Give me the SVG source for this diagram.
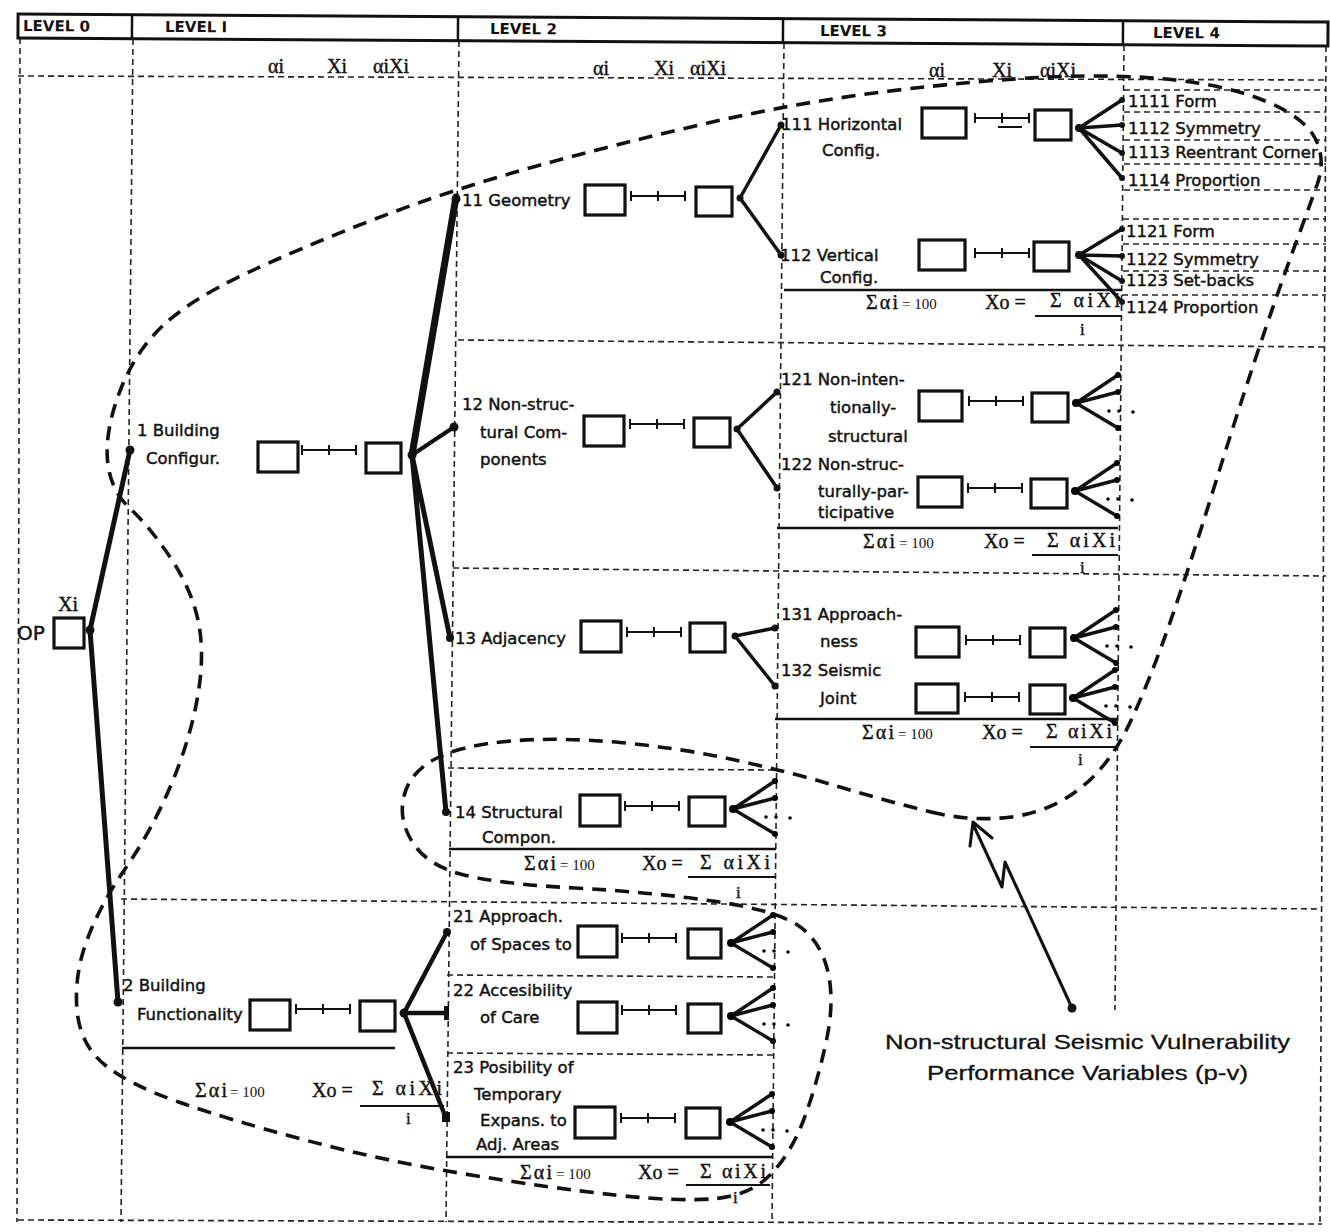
<svg xmlns="http://www.w3.org/2000/svg" width="1330" height="1232" viewBox="0 0 1330 1232">
<defs>
<style>
.t{font-family:"DejaVu Sans","Liberation Sans",sans-serif;font-size:16.5px;fill:#111;stroke:#111;stroke-width:0.45}
.hd{font-family:"DejaVu Sans","Liberation Sans",sans-serif;font-weight:bold;font-size:15px;fill:#111}
.g{font-family:"Liberation Serif",serif;font-size:20px;fill:#111;stroke:#111;stroke-width:0.4}
.gs{font-family:"Liberation Serif",serif;font-size:15px;fill:#111}
.box{fill:#fff;stroke:#111;stroke-width:3.2}
.grid{fill:none;stroke:#222;stroke-width:1.6;stroke-dasharray:6 4}
.loop{fill:none;stroke:#111;stroke-width:3.6;stroke-dasharray:14 9}
.br{fill:none;stroke:#111;stroke-linecap:round}
.rule{stroke:#111;stroke-width:2.6}
.frac{stroke:#111;stroke-width:1.8}
.ann{font-family:"Liberation Sans",Arial,sans-serif;font-size:21px;fill:#111;stroke:#111;stroke-width:0.3}
</style>
<path id="cn" d="M0 0H54M0 -5V5M27 -5V5M54 -5V5" fill="none" stroke="#111" stroke-width="2"/>
<g id="fan">
<path d="M0 0L42 -28M0 0L42 -11M0 0L42 25" fill="none" stroke="#111" stroke-width="3.4" stroke-linecap="round"/>
<circle cx="0" cy="0" r="4"/>
<circle cx="42" cy="-28" r="3"/><circle cx="42" cy="-11" r="3"/><circle cx="42" cy="25" r="3"/>
<circle cx="33" cy="8" r="1.8"/><circle cx="43" cy="8" r="1.8"/><circle cx="57" cy="9" r="1.8"/>
</g>
</defs>
<rect width="1330" height="1232" fill="#fff"/>

<g id="header" transform="rotate(0.35 18 26)">
<rect x="18" y="14" width="1310" height="24" fill="none" stroke="#111" stroke-width="3"/>
<path d="M132 14V38M458 14V38M783 14V38M1123 14V38" stroke="#111" stroke-width="2.5"/>
<text class="hd" x="23" y="31">LEVEL 0</text>
<text class="hd" x="165" y="31">LEVEL I</text>
<text class="hd" x="490" y="31">LEVEL 2</text>
<text class="hd" x="820" y="31">LEVEL 3</text>
<text class="hd" x="1153" y="31">LEVEL 4</text>
</g>

<g id="grid">
<path class="grid" d="M20 38L17 1222M133 39L121 1222M459 41L446 1222M784 43L772 1222M1124 45L1115 1010M1326 46L1320 1222"/>
<path class="grid" d="M18 76L1326 80M458 340L1326 347M453 568L1326 576M448 768L776 770M121 899L1322 909M447 975L774 977M447 1053L774 1055M18 1220L1322 1224"/>
<path class="grid" d="M1124 90H1326M1124 112H1326M1124 140H1326M1124 164H1326M1124 190H1326M1123 219H1326M1123 244H1326M1123 271H1326M1122 295H1326"/>
</g>

<g id="colheads">
<text class="g" x="268" y="73">αi</text><text class="g" x="327" y="73">Xi</text><text class="g" x="373" y="73">αiXi</text>
<text class="g" x="593" y="75">αi</text><text class="g" x="654" y="75">Xi</text><text class="g" x="690" y="75">αiXi</text>
<text class="g" x="929" y="77">αi</text><text class="g" x="992" y="77">Xi</text><text class="g" x="1040" y="77">αiXi</text>
</g>

<g id="enclosure">
<path class="loop" d="M931,812 Q972,822 1011,817 Q1050,812 1080,788.5 Q1110,765 1130,722.5 Q1150,680 1170,622.5 Q1190,565 1212.5,492.5 Q1235,420 1255,360 Q1275,300 1291.5,255 Q1308,210 1317,185 Q1326,160 1315.5,139 Q1305,118 1267.5,102 Q1230,86 1175,80 Q1120,74 1050,77 Q980,80 890,91 Q800,102 710,122.5 Q620,143 535,166.5 Q450,190 375,219 Q300,248 245,274 Q190,300 162.5,326 Q135,352 120,391 Q105,430 107.5,460 Q110,490 130,508.5 Q150,527 171,558.5 Q192,590 198.5,622.5 Q205,655 197.5,697.5 Q190,740 171,785 Q152,830 126,867.5 Q100,905 87,940 Q74,975 77,1010 Q80,1045 105,1065 Q130,1085 180,1102.5 Q230,1120 305,1140 Q380,1160 465,1174 Q550,1188 615,1195 Q680,1202 716,1198.5 Q752,1195 772.5,1172.5 Q793,1150 805.5,1115 Q818,1080 826.5,1040 Q835,1000 827.5,970 Q820,940 797.5,925 Q775,910 712.5,901 Q650,892 575,888 Q500,884 464,875 Q428,866 413,843 Q398,820 404,796 Q410,772 436,758.5 Q462,745 511,741 Q560,737 620,742.5 Q680,748 735,760 Q790,772 840,787 Q890,802 931,812 Z"/>
</g>

<g id="connectors">
<path class="br" stroke-width="5" d="M90 630L130 450M90 630L118 1002"/>
<path class="br" stroke-width="7" d="M412 455L456 197"/>
<path class="br" stroke-width="4" d="M412 455L454 427"/>
<path class="br" stroke-width="5" d="M412 455L450 638M412 455L446 812"/>
<path class="br" stroke-width="4.5" d="M404 1013L447 932M404 1013L447 1013M404 1013L446 1118"/>
<path class="br" stroke-width="3.5" d="M740 198L781 125M740 198L781 255M737 429L777 392M737 429L777 488M735 636L775 628M735 636L775 686"/>
<path class="br" stroke-width="3.5" d="M1079 128L1122 100M1079 128L1122 125M1079 128L1122 153M1079 128L1122 178M1079 255L1122 229M1079 255L1122 256M1079 255L1122 281M1079 255L1122 302"/>
<g fill="#111">
<circle cx="90" cy="630" r="4.5"/><circle cx="130" cy="450" r="4.5"/><circle cx="118" cy="1002" r="4.5"/>
<circle cx="412" cy="455" r="4.5"/><circle cx="456" cy="199" r="4.5"/><circle cx="454" cy="427" r="4.5"/><circle cx="450" cy="638" r="4"/><circle cx="446" cy="812" r="4"/>
<circle cx="404" cy="1013" r="4.5"/><circle cx="447" cy="932" r="4"/><rect x="444" y="1006" width="5" height="14"/><rect x="442" y="1112" width="8" height="10"/>
<circle cx="740" cy="198" r="3.5"/><circle cx="781" cy="125" r="3.5"/><circle cx="781" cy="255" r="3.5"/>
<circle cx="737" cy="429" r="3.5"/><circle cx="777" cy="392" r="3.5"/><circle cx="777" cy="488" r="3.5"/>
<circle cx="735" cy="636" r="3.5"/><circle cx="775" cy="628" r="3.5"/><circle cx="775" cy="686" r="3.5"/>
<circle cx="1079" cy="128" r="4"/><circle cx="1122" cy="100" r="3"/><circle cx="1122" cy="125" r="3"/><circle cx="1122" cy="153" r="3"/><circle cx="1122" cy="178" r="3"/>
<circle cx="1079" cy="255" r="4"/><circle cx="1122" cy="229" r="3"/><circle cx="1122" cy="256" r="3"/><circle cx="1122" cy="281" r="3"/><circle cx="1122" cy="302" r="3"/>
</g>
<use href="#fan" x="1076" y="403"/>
<use href="#fan" x="1075" y="491"/>
<use href="#fan" x="1074" y="638"/>
<use href="#fan" x="1073" y="698"/>
<use href="#fan" x="733" y="809"/>
<use href="#fan" x="731" y="943"/>
<use href="#fan" x="731" y="1016"/>
<use href="#fan" x="730" y="1122"/>
</g>

<g id="n0">
<text class="t" x="17" y="640" style="font-size:20px">OP</text>
<rect class="box" x="54" y="618" width="30" height="30"/>
<text class="g" x="58" y="611">Xi</text>
</g>

<g id="n1">
<text class="t" x="137" y="436">1 Building</text>
<text class="t" x="146" y="464">Configur.</text>
<rect class="box" x="258" y="442" width="40" height="30"/>
<use href="#cn" x="302" y="450"/>
<rect class="box" x="366" y="443" width="35" height="30"/>
</g>

<g id="n2">
<text class="t" x="123" y="991">2 Building</text>
<text class="t" x="137" y="1020">Functionality</text>
<rect class="box" x="250" y="1000" width="40" height="30"/>
<use href="#cn" x="296" y="1009"/>
<rect class="box" x="360" y="1001" width="35" height="30"/>
<line class="rule" x1="122" y1="1048" x2="395" y2="1048"/>
<text class="g" x="195" y="1097" textLength="32">Σαi</text><text class="gs" x="230" y="1097">= 100</text>
<text class="g" x="312" y="1097">Xo =</text>
<text class="g" x="372" y="1095" textLength="70">Σ αiXi</text>
<line class="frac" x1="360" y1="1106" x2="444" y2="1106"/>
<text class="g" x="406" y="1124" style="font-size:17px">i</text>
</g>

<g id="n11">
<text class="t" x="462" y="206">11 Geometry</text>
<rect class="box" x="585" y="185" width="40" height="30"/>
<use href="#cn" x="631" y="196"/>
<rect class="box" x="696" y="187" width="36" height="29"/>
</g>

<g id="n12">
<text class="t" x="462" y="410">12 Non-struc-</text>
<text class="t" x="480" y="438">tural Com-</text>
<text class="t" x="480" y="465">ponents</text>
<rect class="box" x="584" y="416" width="40" height="30"/>
<use href="#cn" x="630" y="424"/>
<rect class="box" x="694" y="418" width="36" height="29"/>
</g>

<g id="n13">
<text class="t" x="455" y="644">13 Adjacency</text>
<rect class="box" x="581" y="621" width="40" height="31"/>
<use href="#cn" x="627" y="632"/>
<rect class="box" x="690" y="623" width="35" height="29"/>
</g>

<g id="n14">
<text class="t" x="455" y="818">14 Structural</text>
<text class="t" x="482" y="843">Compon.</text>
<rect class="box" x="580" y="795" width="40" height="31"/>
<use href="#cn" x="625" y="806"/>
<rect class="box" x="689" y="797" width="36" height="29"/>
<line class="rule" x1="449" y1="849" x2="776" y2="849"/>
<text class="g" x="524" y="870" textLength="32">Σαi</text><text class="gs" x="560" y="870">= 100</text>
<text class="g" x="642" y="870">Xo =</text>
<text class="g" x="700" y="869" textLength="70">Σ αiXi</text>
<line class="frac" x1="688" y1="877" x2="776" y2="877"/>
<text class="g" x="736" y="898" style="font-size:17px">i</text>
</g>

<g id="n21">
<text class="t" x="453" y="922">21 Approach.</text>
<text class="t" x="470" y="950">of Spaces to</text>
<rect class="box" x="578" y="926" width="39" height="31"/>
<use href="#cn" x="622" y="938"/>
<rect class="box" x="688" y="929" width="33" height="29"/>
</g>

<g id="n22">
<text class="t" x="453" y="996">22 Accesibility</text>
<text class="t" x="480" y="1023">of Care</text>
<rect class="box" x="578" y="1002" width="39" height="31"/>
<use href="#cn" x="622" y="1010"/>
<rect class="box" x="688" y="1004" width="33" height="29"/>
</g>

<g id="n23">
<text class="t" x="453" y="1073">23 Posibility of</text>
<text class="t" x="474" y="1100">Temporary</text>
<text class="t" x="480" y="1126">Expans. to</text>
<text class="t" x="476" y="1150">Adj. Areas</text>
<rect class="box" x="575" y="1107" width="40" height="31"/>
<use href="#cn" x="621" y="1118"/>
<rect class="box" x="686" y="1108" width="34" height="30"/>
<line class="rule" x1="446" y1="1157" x2="772" y2="1157"/>
<text class="g" x="520" y="1179" textLength="32">Σαi</text><text class="gs" x="556" y="1179">= 100</text>
<text class="g" x="638" y="1179">Xo =</text>
<text class="g" x="700" y="1178" textLength="66">Σ αiXi</text>
<line class="frac" x1="686" y1="1185" x2="770" y2="1185"/>
<text class="g" x="733" y="1203" style="font-size:17px">i</text>
</g>

<g id="n111">
<text class="t" x="781" y="130">111 Horizontal</text>
<text class="t" x="822" y="156">Config.</text>
<rect class="box" x="922" y="108" width="44" height="30"/>
<use href="#cn" x="975" y="118"/>
<path d="M998 127H1022" stroke="#111" stroke-width="2"/>
<rect class="box" x="1035" y="110" width="36" height="30"/>
</g>

<g id="n112">
<text class="t" x="780" y="261">112 Vertical</text>
<text class="t" x="820" y="283">Config.</text>
<rect class="box" x="919" y="240" width="46" height="30"/>
<use href="#cn" x="975" y="253"/>
<rect class="box" x="1034" y="242" width="35" height="29"/>
<line class="rule" x1="784" y1="290" x2="1122" y2="290"/>
<text class="g" x="866" y="309" textLength="32">Σαi</text><text class="gs" x="902" y="309">= 100</text>
<text class="g" x="985" y="309">Xo =</text>
<text class="g" x="1050" y="307" textLength="70">Σ αiXi</text>
<line class="frac" x1="1035" y1="316" x2="1121" y2="316"/>
<text class="g" x="1080" y="335" style="font-size:17px">i</text>
</g>

<g id="n121">
<text class="t" x="781" y="385">121 Non-inten-</text>
<text class="t" x="830" y="413">tionally-</text>
<text class="t" x="828" y="442">structural</text>
<rect class="box" x="919" y="391" width="43" height="30"/>
<use href="#cn" x="969" y="401"/>
<rect class="box" x="1032" y="393" width="36" height="29"/>
</g>

<g id="n122">
<text class="t" x="781" y="470">122 Non-struc-</text>
<text class="t" x="818" y="497">turally-par-</text>
<text class="t" x="818" y="518">ticipative</text>
<rect class="box" x="918" y="477" width="44" height="30"/>
<use href="#cn" x="968" y="488"/>
<rect class="box" x="1031" y="479" width="36" height="29"/>
<line class="rule" x1="777" y1="528" x2="1118" y2="528"/>
<text class="g" x="863" y="548" textLength="32">Σαi</text><text class="gs" x="899" y="548">= 100</text>
<text class="g" x="984" y="548">Xo =</text>
<text class="g" x="1047" y="547" textLength="68">Σ αiXi</text>
<line class="frac" x1="1032" y1="555" x2="1118" y2="555"/>
<text class="g" x="1080" y="573" style="font-size:17px">i</text>
</g>

<g id="n131">
<text class="t" x="781" y="620">131 Approach-</text>
<text class="t" x="820" y="647">ness</text>
<rect class="box" x="916" y="627" width="43" height="30"/>
<use href="#cn" x="966" y="640"/>
<rect class="box" x="1030" y="628" width="35" height="29"/>
</g>

<g id="n132">
<text class="t" x="781" y="676">132 Seismic</text>
<text class="t" x="820" y="704">Joint</text>
<rect class="box" x="916" y="684" width="42" height="29"/>
<use href="#cn" x="965" y="697"/>
<rect class="box" x="1030" y="685" width="35" height="29"/>
<line class="rule" x1="775" y1="719" x2="1118" y2="719"/>
<text class="g" x="862" y="739" textLength="32">Σαi</text><text class="gs" x="898" y="739">= 100</text>
<text class="g" x="982" y="739">Xo =</text>
<text class="g" x="1046" y="738" textLength="66">Σ αiXi</text>
<line class="frac" x1="1030" y1="747" x2="1117" y2="747"/>
<text class="g" x="1078" y="765" style="font-size:17px">i</text>
</g>

<g id="level4">
<text class="t" x="1128" y="107">1111 Form</text>
<text class="t" x="1128" y="134">1112 Symmetry</text>
<text class="t" x="1128" y="158">1113 Reentrant Corner</text>
<text class="t" x="1128" y="186">1114 Proportion</text>
<text class="t" x="1126" y="237">1121 Form</text>
<text class="t" x="1126" y="265">1122 Symmetry</text>
<text class="t" x="1126" y="286">1123 Set-backs</text>
<text class="t" x="1126" y="313">1124 Proportion</text>
</g>

<g id="annotation">
<path d="M1072 1008L1005 862L1002 887L973 824M970 846L973 822L992 838" fill="none" stroke="#111" stroke-width="3" stroke-linejoin="round" stroke-linecap="round"/>
<circle cx="1072" cy="1008" r="4.5" fill="#111"/>
<text class="ann" x="885" y="1049" textLength="405" lengthAdjust="spacingAndGlyphs">Non-structural Seismic Vulnerability</text>
<text class="ann" x="927" y="1080" textLength="321" lengthAdjust="spacingAndGlyphs">Performance Variables (p-v)</text>
</g>
</svg>
